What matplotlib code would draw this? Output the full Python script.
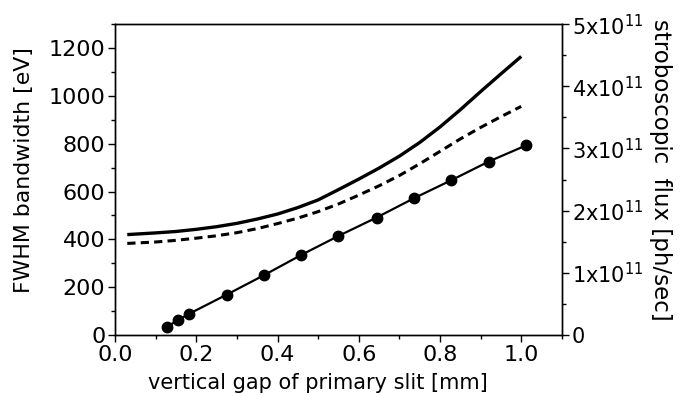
import matplotlib
matplotlib.use("Agg")
from matplotlib import pyplot as plt
from matplotlib.ticker import MultipleLocator, FixedLocator, FixedFormatter

plt.rcParams['font.family'] = ['DejaVu Sans']

# bandwidth curves (left axis)
gap_bw = [0.03, 0.1, 0.15, 0.2, 0.25, 0.3, 0.35, 0.4, 0.45, 0.5, 0.55, 0.6,
          0.65, 0.7, 0.75, 0.8, 0.85, 0.9, 0.95, 1.0]
bw_solid = [420, 427, 433, 442, 453, 467, 485, 506, 533, 565, 608, 652,
            698, 748, 805, 870, 942, 1018, 1092, 1165]
bw_dashed = [383, 389, 396, 405, 415, 428, 445, 466, 489, 516, 548, 585,
             624, 667, 716, 768, 820, 868, 913, 956]

# flux points (right axis)
gap_flux = [0.127, 0.155, 0.182, 0.275, 0.366, 0.459, 0.549, 0.644, 0.736, 0.828, 0.920, 1.012]
flux = [0.13e11, 0.24e11, 0.34e11, 0.65e11, 0.96e11, 1.29e11, 1.59e11, 1.89e11,
        2.20e11, 2.49e11, 2.79e11, 3.05e11]

flux_ticks = [0, 1e11, 2e11, 3e11, 4e11, 5e11]
flux_labels = ['0', '1x10$^{11}$', '2x10$^{11}$', '3x10$^{11}$', '4x10$^{11}$', '5x10$^{11}$']

fig = plt.figure(figsize=(6.81, 3.96), dpi=100)
ax = fig.add_axes([0.169, 0.154, 0.656, 0.785])
ax2 = ax.twinx()

ax.plot(gap_bw, bw_solid, 'k-', lw=2.4, solid_capstyle='butt')
ax.plot(gap_bw, bw_dashed, 'k--', lw=2.2, dashes=(2.7, 1.7))
ax2.plot(gap_flux, flux, 'k-', lw=1.6, marker='o', ms=7.5)

ax.set_xlim(0, 1.1)
ax.set_ylim(0, 1300)
ax2.set_ylim(0, 5e11)

ax.xaxis.set_major_locator(MultipleLocator(0.2))
ax.xaxis.set_minor_locator(MultipleLocator(0.1))
ax.yaxis.set_major_locator(MultipleLocator(200))
ax.yaxis.set_minor_locator(MultipleLocator(100))
ax.xaxis.set_major_formatter(plt.FuncFormatter(lambda v, p: '%.1f' % v))

ax2.yaxis.set_major_locator(FixedLocator(flux_ticks))
ax2.yaxis.set_major_formatter(FixedFormatter(flux_labels))
ax2.yaxis.set_minor_locator(MultipleLocator(0.5e11))

for a in (ax, ax2):
    a.tick_params(which='major', length=5, width=1, direction='out')
    a.tick_params(which='minor', length=3, width=1, direction='out')
    for s in a.spines.values():
        s.set_linewidth(1)
ax.tick_params(axis='both', which='major', labelsize=16, pad=2)
ax2.tick_params(axis='y', which='major', labelsize=15, pad=2)

ax.set_xlabel('vertical gap of primary slit [mm]', fontsize=15)
ax.xaxis.set_label_coords(0.455, -0.123)
ax.set_ylabel('FWHM bandwidth [eV]', fontsize=15.8)
ax.yaxis.set_label_coords(-0.182, 0.53)
ax2.set_ylabel('stroboscopic  flux [ph/sec]', fontsize=16.5, rotation=270)
ax2.yaxis.set_label_coords(1.247, 0.53)

fig.savefig('out.png', dpi=100)
